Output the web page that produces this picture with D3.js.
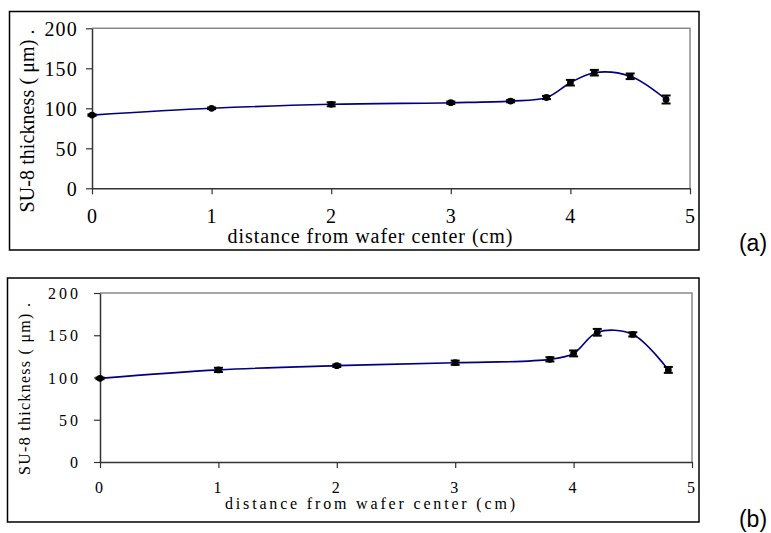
<!DOCTYPE html>
<html><head><meta charset="utf-8">
<script src="https://cdn.jsdelivr.net/npm/d3@7/dist/d3.min.js"></script>
<style>
body{margin:0;background:#fff;}
svg{display:block;}
</style></head><body>
<svg id="c" width="771" height="533"></svg>
<script>
// ---- data ----
const xTicks = [0, 1, 2, 3, 4, 5];
const yTicks = [0, 50, 100, 150, 200];
const xTitle = "distance from wafer center (cm)";
const yTitle = "SU-8 thickness ( μm) .";
const panelLabels = ["(a)", "(b)"];

const xA = [0, 1, 2, 3, 3.5, 3.8, 4, 4.2, 4.5, 4.8];
const yA = [91.5, 100, 105, 107, 109, 113.5, 132, 144.5, 140, 111];
const eA = [1, 1, 2.5, 1.5, 1.5, 2, 3.5, 3.5, 3.5, 5];

const xB = [0, 1, 2, 3, 3.8, 4, 4.2, 4.5, 4.8];
const yB = [99, 109, 114, 117.5, 121.5, 128.5, 153.5, 151, 109];
const eB = [1, 2.5, 1.5, 2.5, 2.5, 3.5, 4, 2.5, 3.5];

const SERIF = "'Liberation Serif', 'Times New Roman', Tinos, 'DejaVu Serif', serif";
const SANS = "'Liberation Sans', Arial, Arimo, sans-serif";
const svg = d3.select("#c");

function panel(cfg){
  const g = svg.append("g");
  g.append("rect").attr("x",cfg.box[0]).attr("y",cfg.box[1])
    .attr("width",cfg.box[2]-cfg.box[0]).attr("height",cfg.box[3]-cfg.box[1])
    .attr("fill","none").attr("stroke","#000").attr("stroke-width",1.5);
  const x = d3.scaleLinear().domain([0,5]).range([cfg.px0, cfg.px1]);
  const y = d3.scaleLinear().domain([0,200]).range([cfg.py0, cfg.py1]);
  g.append("path").attr("d",`M${x(0)},${y(200)}H${x(5)}V${y(0)}`)
    .attr("fill","none").attr("stroke","#8a8a8a").attr("stroke-width",1.5);
  const ya = g.append("g").attr("transform",`translate(${x(0)},0)`)
    .call(d3.axisLeft(y).tickValues(yTicks).tickSize(6).tickSizeOuter(0).tickFormat(d3.format("d")));
  const xa = g.append("g").attr("transform",`translate(0,${y(0)})`)
    .call(d3.axisBottom(x).tickValues(xTicks).tickSize(6).tickSizeOuter(0).tickFormat(d3.format("d")));
  [ya,xa].forEach(a=>{
    a.attr("font-family",null).attr("font-size",null);
    a.select(".domain").attr("stroke","#333").attr("stroke-width",1.5);
    a.selectAll(".tick line").attr("stroke","#333").attr("stroke-width",1.2);
    a.selectAll(".tick text").style("font-family",SERIF)
      .style("font-size",cfg.fs+"px").attr("fill","#000").style("letter-spacing",cfg.ls+"px");
  });
  ya.selectAll(".tick text").attr("x",cfg.ylabX - x(0)).attr("dy","0.35em");
  xa.selectAll(".tick text").attr("y",cfg.xlabY - y(0)).attr("dy","0.35em");
  g.append("text").attr("x",cfg.xtX).attr("y",cfg.xtY).attr("text-anchor","middle")
    .attr("dy","0.35em").style("font-family",SERIF).style("font-size",cfg.fs+"px")
    .attr("textLength",cfg.xtLen).attr("lengthAdjust","spacing").text(xTitle);
  g.append("text").attr("transform",`translate(${cfg.ytX},${cfg.ytY}) rotate(-90)`)
    .attr("text-anchor","middle").attr("dy","0.35em").style("font-family",SERIF).style("font-size",cfg.fs+"px")
    .attr("textLength",cfg.ytLen).attr("lengthAdjust","spacing").text(yTitle);
  g.append("text").attr("x",cfg.lab[0]).attr("y",cfg.lab[1]).attr("text-anchor","middle")
    .attr("dy","0.35em").style("font-family",SANS).style("font-size","23px").text(cfg.label);
  const pts = cfg.xs.map((v,i)=>({x:v,y:cfg.ys[i],e:cfg.es[i]}));
  const line = d3.line().x(d=>x(d.x)).y(d=>y(d.y)).curve(d3.curveCatmullRom.alpha(0.5));
  g.append("path").datum(pts).attr("d",line).attr("fill","none")
    .attr("stroke","#000080").attr("stroke-width",1.6);
  const eb = g.append("g").attr("stroke","#000").attr("stroke-width",2);
  pts.forEach(d=>{
    eb.append("line").attr("x1",x(d.x)).attr("x2",x(d.x)).attr("y1",y(d.y-d.e)).attr("y2",y(d.y+d.e));
    eb.append("line").attr("x1",x(d.x)-4.5).attr("x2",x(d.x)+4.5).attr("y1",y(d.y-d.e)).attr("y2",y(d.y-d.e));
    eb.append("line").attr("x1",x(d.x)-4.5).attr("x2",x(d.x)+4.5).attr("y1",y(d.y+d.e)).attr("y2",y(d.y+d.e));
  });
  g.append("g").selectAll("circle").data(pts).join("circle")
    .attr("cx",d=>x(d.x)).attr("cy",d=>y(d.y)).attr("r",3.4).attr("fill","#000");
}

panel({box:[9.5,11.5,699,250], px0:92, px1:690, py0:188.3, py1:28.3,
  fs:20, ls:1.2, ylabX:78, xlabY:216, xtX:370, xtY:236, xtLen:285, ytX:27, ytY:121, ytLen:183,
  lab:[753,243], label:panelLabels[0], xs:xA, ys:yA, es:eA});
panel({box:[7.5,278,699,522], px0:100, px1:692, py0:462, py1:293,
  fs:16, ls:3, ylabX:81, xlabY:487, xtX:370, xtY:503, xtLen:290, ytX:24, ytY:389, ytLen:172,
  lab:[753,519], label:panelLabels[1], xs:xB, ys:yB, es:eB});
</script>
</body></html>
